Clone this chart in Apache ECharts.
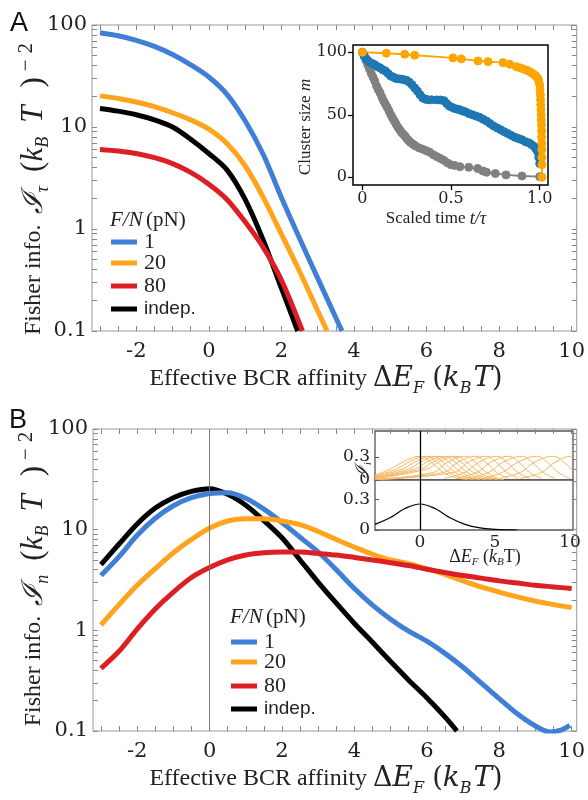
<!DOCTYPE html>
<html><head><meta charset="utf-8">
<script src="https://cdn.jsdelivr.net/npm/echarts@6/dist/echarts.min.js"></script>
<style>html,body{margin:0;padding:0;background:#fff}#c{width:588px;height:800px}</style>
</head><body><div id="c"></div>
<script>
// ---------- Panel A main: Fisher info I_tau ----------
const blueA_x = [-3,-2.5,-2,-1.5,-1,-0.5,0,0.5,1,1.5,2,2.5,3,3.5,3.67];
const blueA_y = [84,78.5,70.8,61.7,51.3,40.7,30.9,20.9,11.5,5.37,2.04,0.81,0.33,0.135,0.1];
const orangeA_x = [-3,-2.5,-2,-1.5,-1,-0.5,0,0.5,1,1.5,2,2.5,3,3.26];
const orangeA_y = [20.2,19.05,17.6,15.85,13.8,11.75,9.55,6.9,4.17,2.04,0.89,0.385,0.158,0.1];
const redA_x = [-3,-2.5,-2,-1.5,-1,-0.5,0,0.5,1,1.5,2,2.58];
const redA_y = [6.03,5.82,5.5,5.0,4.37,3.59,2.75,1.95,1.175,0.66,0.316,0.1];
const blackA_x = [-3,-2.5,-2,-1.5,-1,-0.5,0,0.5,1,1.5,2,2.45];
const blackA_y = [15.2,14.3,13.2,11.75,10.0,7.6,5.5,3.8,1.95,0.776,0.263,0.1];

// ---------- Panel A inset: cluster size vs scaled time ----------
const grayIn_t = [0,0.01,0.02,0.03,0.04,0.05,0.06,0.07,0.08,0.09,0.1,0.11,0.12,0.13,0.14,0.15,0.16,0.17,0.18,0.19,0.2,0.21,0.22,0.23,0.24,0.25,0.26,0.27,0.28,0.29,0.3,0.32,0.34,0.36,0.38,0.4,0.42,0.44,0.46,0.48,0.5,0.52,0.55,0.6,0.65,0.68,0.7,0.75,0.81,0.9,1.0];
const grayIn_m = [100,97,93.5,90,86.5,83,80,77,73,70,67.5,64,61,58.5,56,53,50,47.5,45,42.5,40,38,36,34.5,33,31,29.5,28,27,26,25,23.5,22.5,21.3,20,18,16.5,15,13.5,11.5,10,9.5,8.5,8,7,5,4,3,1.9,1,0.5];
const blueIn_t = [0,0.01,0.02,0.03,0.04,0.055,0.07,0.085,0.1,0.115,0.13,0.145,0.16,0.175,0.19,0.205,0.22,0.235,0.25,0.265,0.28,0.295,0.31,0.325,0.34,0.355,0.37,0.39,0.42,0.44,0.46,0.475,0.49,0.505,0.52,0.535,0.55,0.565,0.58,0.6,0.62,0.64,0.66,0.68,0.7,0.72,0.74,0.76,0.78,0.8,0.82,0.84,0.86,0.88,0.9,0.92,0.94,0.955,0.97,0.98,0.99,0.995,1.0];
const blueIn_m = [100,97,95,93.5,92,91,90,88.5,87.5,86,85,83,81,80,79,78.7,78.5,78,77.5,76,74,71.5,69,66,63.5,62.5,62,62,61.9,61.8,61.3,59,57,56,55,54.5,54,53,52.5,51,50,49,48,46.5,45,43,41,39.5,38,36.5,35,33.5,32,31,30,28.5,27.5,26,24.5,22.5,20,16,11];
const orangeIn_t = [0,0.135,0.239,0.295,0.511,0.558,0.652,0.709,0.793,0.831,0.868,0.89,0.91,0.93,0.944,0.955,0.965,0.975,0.981,0.99,0.995,1.0,1.002,1.004,1.005,1.006,1.007,1.008,1.009,1.01,1.011,1.011,1.012,1.012,1.013,1.013,1.013];
const orangeIn_m = [100,99.2,98.4,97.6,95.5,94.7,93.1,92.5,91.7,90.4,88.5,87.5,86.5,85.5,84.5,83.5,82.5,81.5,80.5,79,77,74,70,66,62,58,54,50,46,42,37,32,27,22,16,10,0];

// ---------- Panel B main: Fisher info I_n ----------
const blueB_x = [-3,-2.5,-2,-1.5,-1,-0.5,0,0.5,1,1.5,2,2.5,3,3.5,4,4.5,5,5.5,6,6.5,7,7.5,8,8.5,9,9.4,9.7,9.95];
const blueB_y = [3.5,5.4,8.8,13.0,17.3,20.8,22.9,23.3,20.5,16,11.8,8.4,6.0,4.0,2.6,1.78,1.29,0.98,0.78,0.59,0.43,0.30,0.21,0.148,0.112,0.098,0.102,0.114];
const blackB_x = [-3,-2.5,-2,-1.5,-1,-0.5,0,0.5,1,1.5,2,2.5,3,3.5,4,4.5,5,5.5,6,6.5,6.83];
const blackB_y = [4.5,7.2,11.4,16.4,20.8,24,25.5,22.5,17.5,12.3,8.3,5.0,3.0,1.86,1.17,0.76,0.49,0.32,0.214,0.138,0.1];
const orangeB_x = [-3,-2.5,-2,-1.5,-1,-0.5,0,0.5,1,1.5,2,2.5,3,3.5,4,4.5,5,5.5,6,6.5,7,7.5,8,8.5,9,9.5,10];
const orangeB_y = [1.13,1.8,2.8,4.1,5.9,8.0,10.4,12.2,12.8,12.8,12.2,11.2,9.6,8.0,6.7,5.7,5.0,4.6,4.1,3.6,3.1,2.7,2.4,2.15,1.95,1.8,1.68];
const redB_x = orangeB_x;
const redB_y = [0.42,0.62,1.03,1.63,2.4,3.35,4.2,5.0,5.6,5.9,6.0,6.0,5.8,5.6,5.3,5.0,4.7,4.4,4.05,3.75,3.5,3.3,3.1,2.95,2.8,2.7,2.6];

// ---------- Panel B inset: individual contributions I_i ----------
const insetUpper = [
  [[-3,0.066],[-2,0.14],[-1,0.25],[0,0.31],[0.7,0.24],[1.4,0.12],[2.2,0.04],[3.2,0.005]],
  [[-3,0.056],[-1.6,0.14],[-0.6,0.25],[0.4,0.31],[1.1,0.24],[1.8,0.12],[2.6,0.04],[3.6,0.005]],
  [[-3,0.047],[-1.2,0.14],[-0.2,0.25],[0.8,0.31],[1.5,0.24],[2.2,0.12],[3.0,0.04],[4.0,0.005]],
  [[-3,0.039],[-0.8,0.14],[0.2,0.25],[1.2,0.31],[1.9,0.24],[2.6,0.12],[3.4,0.04],[4.4,0.005]],
  [[-3,0.031],[-0.4,0.14],[0.6,0.25],[1.6,0.31],[2.3,0.24],[3.0,0.12],[3.8,0.04],[4.8,0.005]],
  [[-3,0.024],[0.0,0.14],[1.0,0.25],[2.0,0.31],[2.7,0.24],[3.4,0.12],[4.2,0.04],[5.2,0.005]],
  [[-3,0.017],[0.4,0.14],[1.4,0.25],[2.4,0.31],[3.1,0.24],[3.8,0.12],[4.6,0.04],[5.6,0.005]],
  [[-3,0.01],[0.9,0.1],[1.8,0.23],[3.0,0.31],[3.7,0.23],[4.4,0.1],[5.2,0.02]],
  [[-3,0.006],[1.6,0.1],[2.5,0.23],[3.7,0.31],[4.4,0.23],[5.1,0.1],[5.9,0.02]],
  [[-3,0.003],[2.3,0.1],[3.2,0.23],[4.4,0.31],[5.1,0.23],[5.8,0.1],[6.6,0.02]],
  [[1.6,0.02],[3.0,0.1],[3.9,0.23],[5.1,0.31],[5.8,0.23],[6.5,0.1],[7.3,0.02]],
  [[2.4,0.02],[3.8,0.1],[4.7,0.23],[5.9,0.31],[6.6,0.23],[7.3,0.1],[8.1,0.02]],
  [[3.2,0.02],[4.6,0.1],[5.5,0.23],[6.8,0.31],[7.5,0.23],[8.2,0.1],[9.0,0.02]],
  [[4.1,0.02],[5.5,0.1],[6.5,0.23],[7.8,0.31],[8.5,0.23],[9.2,0.1],[10.0,0.02]],
  [[5.3,0.02],[6.7,0.1],[7.6,0.23],[8.9,0.31],[9.6,0.23],[10.2,0.12]],
  [[6.7,0.02],[8.1,0.1],[9.0,0.23],[10.1,0.31],[10.2,0.31]]
];
const insetLower_x = [-3,-2,-1,0,1,2,3,4,5,6,6.5];
const insetLower_y = [0.055,0.12,0.21,0.255,0.21,0.12,0.055,0.02,0.006,0.001,0];

// ---------- tick labels ----------
const xTickLabels = [-2,0,2,4,6,8,10];
const xTicks = [-3,-2.5,-2,-1.5,-1,-0.5,0,0.5,1,1.5,2,2.5,3,3.5,4,4.5,5,5.5,6,6.5,7,7.5,8,8.5,9,9.5,10];
const yTickLabels = [0.1,1,10,100];
const yTicks = [0.1,0.2,0.3,0.4,0.5,0.6,0.7,0.8,0.9,1,2,3,4,5,6,7,8,9,10,20,30,40,50,60,70,80,90,100];
const insetATicksX = [0,0.5,1];
const insetATicksY = [0,50,100];
const insetBTicksX = [0,5,10];
const insetBTicksY = [0,0.3];

const C = {blue:'#3f7fd6', orange:'#ffa41c', red:'#dc1f25', black:'#000000'};
const INC = {gray:'#808080', blue:'#1f77b4', orange:'#ffa500', thin:'#f4b660'};

function pairs(xs, ys){ return xs.map((v,i)=>[v, ys[i]]); }
const SERIF = 'Liberation Serif';
const TICKF = 'DejaVu Serif';

function mainX(grid, pos, labels){
  return {type:'value', gridIndex:grid, position:pos, min:-3.22, max:10.14,
    axisLine:{show:false, onZero:false}, splitLine:{show:false},
    axisTick:{show:true, inside:true, length:5, customValues:xTicks, lineStyle:{color:'#888', width:1}},
    axisLabel:{show:labels, customValues:xTickLabels, fontFamily:TICKF, fontSize:21, color:'#222', margin:10}};
}
function mainY(grid, pos, labels){
  return {type:'log', logBase:10, gridIndex:grid, position:pos, min:0.1, max:100,
    axisLine:{show:false, onZero:false}, splitLine:{show:false}, minorTick:{show:false},
    axisTick:{show:true, inside:true, length:5, customValues:yTicks, lineStyle:{color:'#888', width:1}},
    axisLabel:{show:labels, customValues:yTickLabels, fontFamily:TICKF, fontSize:21, color:'#222', margin:5,
      formatter:v=>String(+(+v).toPrecision(3))}};
}
function line(name, xi, yi, data, color, w, z, sm){
  return {type:'line', name, xAxisIndex:xi, yAxisIndex:yi, data, smooth:(sm||0.3), showSymbol:false,
    lineStyle:{color, width:w}, itemStyle:{color}, z:z||2, silent:true};
}
function dots(name, xi, yi, data, color){
  return {type:'line', name, xAxisIndex:xi, yAxisIndex:yi, data, smooth:false, showSymbol:true, showAllSymbol:true,
    symbol:'circle', symbolSize:8, lineStyle:{color, width:2}, itemStyle:{color, borderColor:color, borderWidth:1, opacity:1}, z:3, silent:true};
}

const series = [];
series.push(line('A-black',0,0,pairs(blackA_x,blackA_y),C.black,5));
series.push(line('A-blue',0,0,pairs(blueA_x,blueA_y),C.blue,5));
series.push(line('A-orange',0,0,pairs(orangeA_x,orangeA_y),C.orange,5));
series.push(line('A-red',0,0,pairs(redA_x,redA_y),C.red,5));
series.push(dots('In-gray',2,2,pairs(grayIn_t,grayIn_m),INC.gray));
series.push(dots('In-blue',2,2,pairs(blueIn_t,blueIn_m),INC.blue));
series.push(dots('In-orange',2,2,pairs(orangeIn_t,orangeIn_m),INC.orange));
const bBlack = line('B-black',3,3,pairs(blackB_x,blackB_y),C.black,5);
bBlack.markLine = {silent:true, symbol:'none', label:{show:false}, animation:false,
  lineStyle:{color:'#777', width:1, type:'solid'}, data:[{xAxis:0}]};
series.push(bBlack);
series.push(line('B-blue',3,3,pairs(blueB_x,blueB_y),C.blue,5));
series.push(line('B-orange',3,3,pairs(orangeB_x,orangeB_y),C.orange,5));
series.push(line('B-red',3,3,pairs(redB_x,redB_y),C.red,5));
insetUpper.forEach((c,i)=>{
  const s = line('up'+i,5,5,c,INC.thin,1,3,0.4);
  if(i===0){ s.markLine = {silent:true, symbol:'none', label:{show:false}, animation:false,
    lineStyle:{color:'#000', width:1.3, type:'solid'}, data:[{xAxis:0}]}; }
  series.push(s);
});
const low = line('low',6,6,pairs(insetLower_x,insetLower_y),'#000',1.2,3,0.4);
low.markLine = {silent:true, symbol:'none', label:{show:false}, animation:false,
  lineStyle:{color:'#000', width:1.3, type:'solid'}, data:[{xAxis:0}]};
series.push(low);

const option = {
  animation:false,
  grid:[
    {left:92, top:25, width:491, height:306, show:true, borderColor:'#999', borderWidth:1, backgroundColor:'transparent'},
    {left:353, top:45, width:195, height:140, show:true, borderColor:'#000', borderWidth:1.5, backgroundColor:'#fff'},
    {left:93, top:429, width:491, height:302, show:true, borderColor:'#999', borderWidth:1, backgroundColor:'transparent'},
    {left:375, top:431, width:198, height:49, show:true, borderColor:'#555', borderWidth:1.3, backgroundColor:'#fff'},
    {left:375, top:480, width:198, height:50, show:true, borderColor:'#555', borderWidth:1.3, backgroundColor:'#fff'}
  ],
  xAxis:[
    mainX(0,'bottom',true),
    mainX(0,'top',false),
    {type:'value', gridIndex:1, min:-0.053, max:1.047, axisLine:{show:false, onZero:false}, splitLine:{show:false},
      axisTick:{show:true, inside:false, length:5, customValues:insetATicksX, lineStyle:{color:'#000', width:1.3}},
      axisLabel:{customValues:insetATicksX, fontFamily:TICKF, fontSize:16, color:'#222', margin:6,
        formatter:v=>(v===1?'1.0':String(v))}},
    mainX(2,'bottom',true),
    mainX(2,'top',false),
    {type:'value', gridIndex:3, min:-3, max:10.2, axisLine:{show:false, onZero:false}, splitLine:{show:false},
      axisTick:{show:false}, axisLabel:{show:false}},
    {type:'value', gridIndex:4, min:-3, max:10.2, axisLine:{show:false, onZero:false}, splitLine:{show:false},
      axisTick:{show:false},
      axisLabel:{customValues:insetBTicksX, fontFamily:TICKF, fontSize:17, color:'#222', margin:4}}
  ],
  yAxis:[
    mainY(0,'left',true),
    mainY(0,'right',false),
    {type:'value', gridIndex:1, min:-6.2, max:105.8, axisLine:{show:false, onZero:false}, splitLine:{show:false},
      axisTick:{show:true, inside:false, length:5, customValues:insetATicksY, lineStyle:{color:'#000', width:1.3}},
      axisLabel:{customValues:insetATicksY, fontFamily:TICKF, fontSize:16, color:'#222', margin:6}},
    mainY(2,'left',true),
    mainY(2,'right',false),
    {type:'value', gridIndex:3, min:0, max:0.64, axisLine:{show:false, onZero:false}, splitLine:{show:false},
      axisTick:{show:true, inside:true, length:4, customValues:insetBTicksY, lineStyle:{color:'#555'}},
      axisLabel:{customValues:insetBTicksY, fontFamily:TICKF, fontSize:17, color:'#222', margin:5}},
    {type:'value', gridIndex:4, min:0, max:0.49, axisLine:{show:false, onZero:false}, splitLine:{show:false},
      axisTick:{show:true, inside:true, length:4, customValues:insetBTicksY, lineStyle:{color:'#555'}},
      axisLabel:{customValues:insetBTicksY, fontFamily:TICKF, fontSize:17, color:'#222', margin:5}}
  ],
  series
};

// ---------- text / legend graphics ----------
const rich = {
  t:{fontFamily:SERIF, fontSize:24, lineHeight:36, fill:'#222'},
  m:{fontFamily:'DejaVu Serif', fontSize:27, lineHeight:36, fill:'#222'},
  mi:{fontFamily:'DejaVu Serif', fontStyle:'italic', fontSize:28, lineHeight:36, fill:'#222'},
  sub:{fontFamily:'DejaVu Serif', fontStyle:'italic', fontSize:16, lineHeight:16, verticalAlign:'bottom', fill:'#222'},
  ym:{fontFamily:SERIF, fontSize:31, lineHeight:36, fill:'#222'},
  ymi:{fontFamily:SERIF, fontStyle:'italic', fontSize:31, lineHeight:36, fill:'#222'},
  cal:{fontFamily:'DejaVu Serif', fontStyle:'italic', fontSize:29, lineHeight:36, fill:'#222'},
  ysub:{fontFamily:SERIF, fontStyle:'italic', fontSize:18, lineHeight:18, verticalAlign:'bottom', fill:'#222'},
  sup:{fontFamily:SERIF, fontSize:21, lineHeight:18, verticalAlign:'top', fill:'#222'},
  g2:{fontSize:2, width:2}, g4:{fontSize:4, width:4}, g6:{fontSize:6, width:6}, g8:{fontSize:8, width:8}, g10:{fontSize:10, width:10}, g14:{fontSize:14, width:14}, g18:{fontSize:18, width:18}
};
function txt(x, y, text, extra, rot){
  return Object.assign({type:'text', x, y, rotation:rot||0, silent:true,
    style:Object.assign({text, rich, align:'center', verticalAlign:'middle', textAlign:'center', textVerticalAlign:'middle', fill:'#222'}, extra||{})});
}
const xTitle = '{t|Effective BCR affinity }{m|Δ}{mi|E}{sub|F}{g8| }{m|(}{mi|k}{sub|B}{g2| }{mi|T}{m|)}';
const yTitleA = '{t|Fisher info.}{g10| }{cal|ℐ}{ysub|τ}{g14| }{ym|(}{ymi|k}{ysub|B}{g14| }{ymi|T}{g18| }{ym|)}{g6| }{sup|−}{g6| }{sup|2}';
const yTitleB = '{t|Fisher info.}{g10| }{cal|ℐ}{ysub|n}{g14| }{ym|(}{ymi|k}{ysub|B}{g14| }{ymi|T}{g18| }{ym|)}{g6| }{sup|−}{g6| }{sup|2}';

const legRich = {
  mi:{fontFamily:SERIF, fontStyle:'italic', fontSize:21, fill:'#222'},
  r:{fontFamily:SERIF, fontSize:21, fill:'#222'}
};
function legend(x0, yTitle, ys){
  const els = [];
  els.push({type:'text', x:x0, y:yTitle, silent:true, style:{text:'{mi|F/N} {r|(pN)}', rich:legRich, align:'left', verticalAlign:'middle', textAlign:'left', textVerticalAlign:'middle'}});
  const cols = [C.blue, C.orange, C.red, C.black];
  const labs = ['1','20','80','indep.'];
  ys.forEach((y,i)=>{
    els.push({type:'line', silent:true, shape:{x1:x0+1, y1:y, x2:x0+27, y2:y}, style:{stroke:cols[i], lineWidth:5}});
    els.push({type:'text', x:x0+34, y:y, silent:true, style:{text:labs[i],
      font: i===3 ? '19px "Liberation Sans"' : '22px "Liberation Serif"', fill:'#222',
      align:'left', verticalAlign:'middle', textAlign:'left', textVerticalAlign:'middle'}});
  });
  return els;
}

const graphics = [
  {type:'text', x:19, y:24, silent:true, style:{text:'A', font:'27px "Liberation Sans"', fill:'#111', align:'center', verticalAlign:'middle', textAlign:'center', textVerticalAlign:'middle'}},
  {type:'text', x:18, y:421, silent:true, style:{text:'B', font:'27px "Liberation Sans"', fill:'#111', align:'center', verticalAlign:'middle', textAlign:'center', textVerticalAlign:'middle'}},
  txt(326, 379, xTitle),
  txt(326, 779, xTitle),
  txt(34, 189, yTitleA, null, Math.PI/2),
  txt(34, 579, yTitleB, null, Math.PI/2),
  txt(306, 127, '{a|Cluster size }{b|m}', {rich:{a:{fontFamily:SERIF, fontSize:17}, b:{fontFamily:SERIF, fontStyle:'italic', fontSize:17}}}, Math.PI/2),
  txt(436, 219, '{a|Scaled time }{b|t/τ}', {rich:{a:{fontFamily:SERIF, fontSize:17}, b:{fontFamily:SERIF, fontStyle:'italic', fontSize:18}}}),
  txt(363, 470, '{c|ℐ}{s|i}', {rich:{c:{fontFamily:'DejaVu Serif', fontStyle:'italic', fontSize:17, lineHeight:20}, s:{fontFamily:SERIF, fontStyle:'italic', fontSize:10, lineHeight:10, verticalAlign:'bottom'}}}, Math.PI/2),
  txt(485, 557, '{a|Δ}{b|E}{s|F}{a| (}{b|k}{s|B}{a|T)}', {rich:{a:{fontFamily:SERIF, fontSize:18, lineHeight:22}, b:{fontFamily:SERIF, fontStyle:'italic', fontSize:18, lineHeight:22}, s:{fontFamily:SERIF, fontStyle:'italic', fontSize:11, lineHeight:11, verticalAlign:'bottom'}}})
].concat(legend(110, 220, [242,263,286,309])).concat(legend(230, 617, [642,662,686,709]));

option.graphic = {elements: graphics};

const chart = echarts.init(document.getElementById('c'), null, {renderer:'canvas'});
chart.setOption(option);
</script></body></html>
